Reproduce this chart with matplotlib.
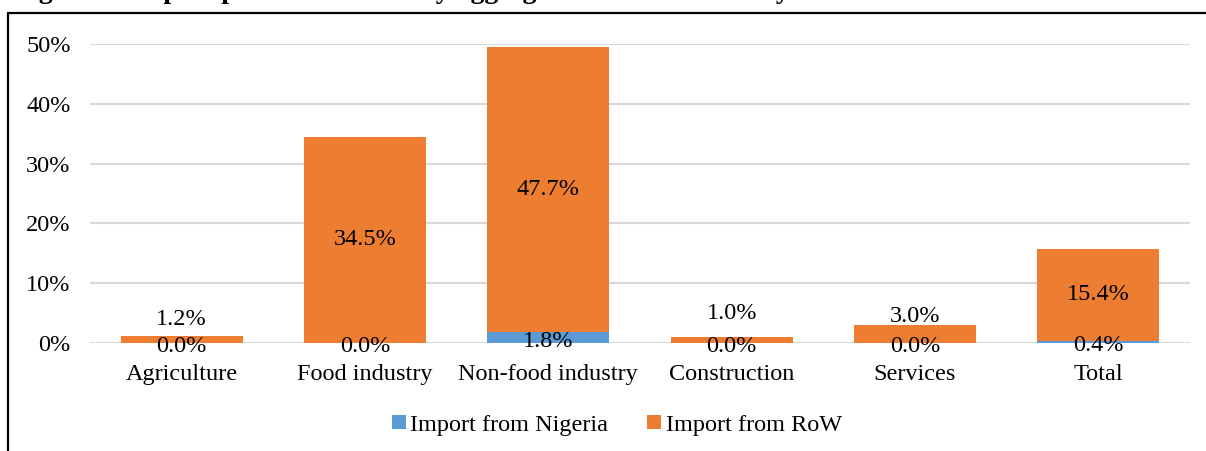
import matplotlib
matplotlib.use("Agg")
import matplotlib.pyplot as plt
from matplotlib.patches import Rectangle
from matplotlib.ticker import FuncFormatter

categories = ["Agriculture", "Food industry", "Non-food industry", "Construction", "Services", "Total"]
nigeria = [0.0, 0.0, 1.8, 0.0, 0.0, 0.4]
row = [1.2, 34.5, 47.7, 1.0, 3.0, 15.4]
title = "Figure 6: Import penetration rate by aggregated sector of activity"

BLUE = "#5B9BD5"
ORANGE = "#ED7D31"
FS = 17.5

# how far above the bar the small RoW labels sit (in % units)
small_nudge = {0: 2.7, 3: 4.0, 4: 1.5}

plt.rcParams["font.family"] = ["Liberation Serif", "DejaVu Serif"]

fig = plt.figure(figsize=(12.06, 4.51), dpi=100)

# chart frame, clipped on the right and bottom like the screenshot
fig.patches.append(Rectangle((8 / 1206, -0.1), 1.2, 1 - 13 / 451 + 0.1,
                             transform=fig.transFigure, fill=False,
                             edgecolor="black", linewidth=1.6))
fig.text(14 / 1206, 1.004, title, fontsize=20, fontweight="bold",
         ha="left", va="baseline")

ax = fig.add_axes([90 / 1206, 1 - 343 / 451, 1100 / 1206, 299 / 451])
x = range(len(categories))
w = 0.667
ax.bar(x, nigeria, w, color=BLUE, label="Import from Nigeria", zorder=3)
ax.bar(x, row, w, bottom=nigeria, color=ORANGE, label="Import from RoW", zorder=3)

for i in x:
    ax.text(i, nigeria[i] / 2 - 0.6, f"{nigeria[i]:.1f}%", ha="center", va="center",
            fontsize=FS, zorder=4)
    if row[i] > 5:
        ax.text(i, nigeria[i] + row[i] / 2, f"{row[i]:.1f}%", ha="center", va="center",
                fontsize=FS, zorder=4)
    else:
        ax.text(i, nigeria[i] + row[i] + small_nudge.get(i, 2.5), f"{row[i]:.1f}%",
                ha="center", va="center", fontsize=FS, zorder=4)

ax.set_xlim(-0.5, len(categories) - 0.5)
ax.set_ylim(0, 50)
ax.set_yticks([0, 10, 20, 30, 40, 50])
ax.yaxis.set_major_formatter(FuncFormatter(lambda v, p: f"{v:.0f}%"))
ax.set_xticks(list(x))
ax.set_xticklabels(categories)
ax.tick_params(axis="both", length=0, labelsize=FS)
ax.tick_params(axis="y", pad=14)
ax.tick_params(axis="x", pad=15)
ax.grid(axis="y", color="#D9D9D9", linewidth=1.5, zorder=0)
for s in ax.spines.values():
    s.set_visible(False)

ax.legend(loc="center", bbox_to_anchor=(527 / 1100, -82 / 299), ncol=2, frameon=False,
          fontsize=FS, handlelength=0.55, handleheight=0.55, handletextpad=0.2,
          columnspacing=1.6)

fig.savefig("out.png", dpi=100)
